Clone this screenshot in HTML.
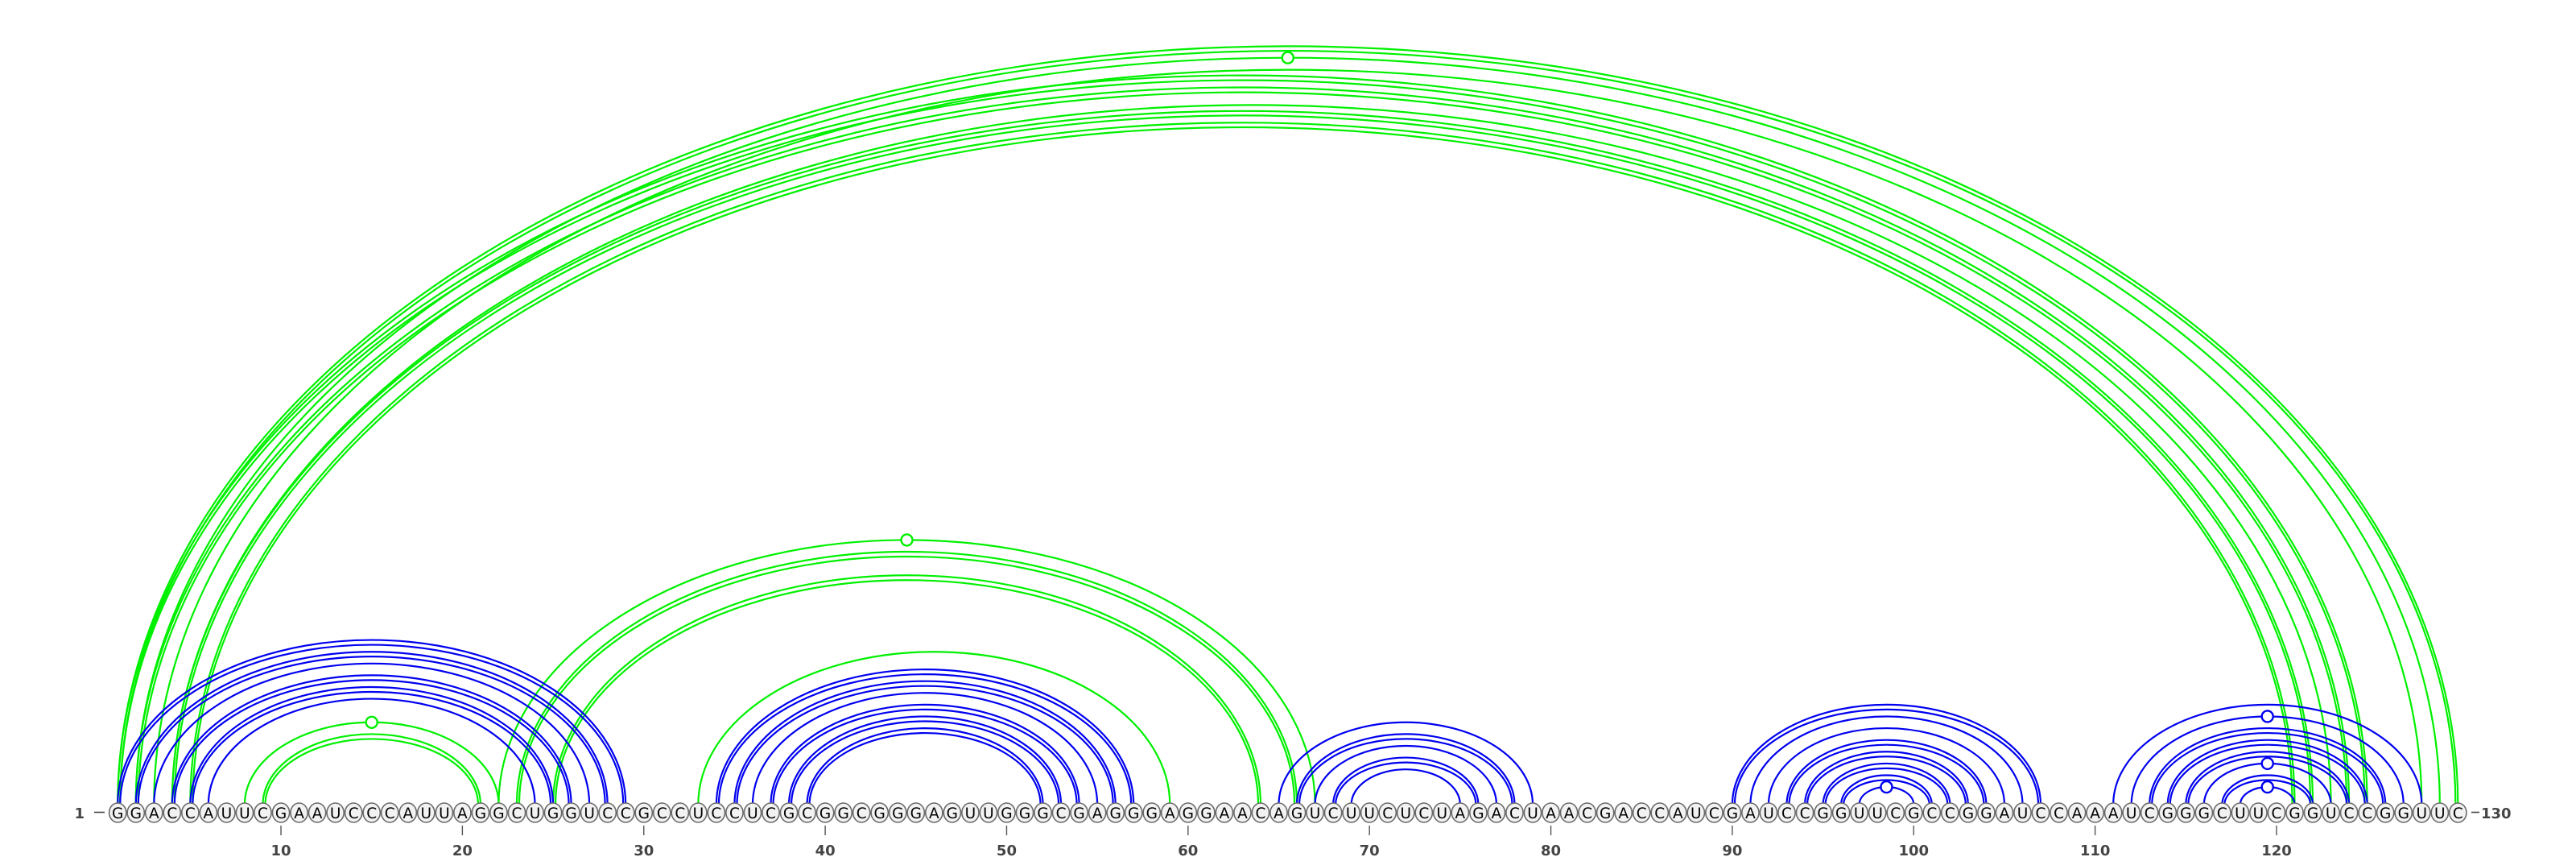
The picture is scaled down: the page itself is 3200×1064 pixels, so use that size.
<!DOCTYPE html>
<html><head><meta charset="utf-8"><style>
html,body{margin:0;padding:0;background:#fff;}
svg{display:block;}
</style></head><body>
<svg id="chart" width="3200" height="1064" viewBox="0 0 3200 1064" xmlns="http://www.w3.org/2000/svg">
<g id="arcs"></g>
<g id="nts"></g>
<g id="ticks"></g>
</svg>
<script>
const sequence = "GGACCAUUCGAAUCCCAUUAGGCUGGUCCGCCUCCUCGCGGCGGGAGUUGGGCGAGGGAGGAACAGUCUUCUCUAGACUAACGACCAUCGAUCCGGUUCGCCGGAUCCAAAUCGGGCUUCGGUCCGGUUC";
// blue pairs: [i, j, double(1/0), marker(1/0)]
const bluePairs = [
 [1,29,1,0],[2,28,1,0],[3,27,0,0],[4,26,1,0],[5,25,1,0],[6,24,0,0],
 [34,57,1,0],[35,56,1,0],[36,55,0,0],[37,54,1,0],[38,53,1,0],[39,52,1,0],
 [65,79,0,0],[66,78,1,0],[67,77,0,0],[68,76,1,0],[69,75,0,0],
 [90,107,1,0],[91,106,0,0],[92,105,0,0],[93,104,1,0],[94,103,1,0],[95,102,1,0],[96,101,1,0],[97,100,0,1],
 [111,128,0,0],[112,127,0,1],[113,126,1,0],[114,125,1,0],[115,124,1,0],[116,123,0,1],[117,122,1,0],[118,121,0,1]
];
const greenPairs = [
 [8,22,0,1],[9,21,1,0],
 [22,67,0,1],[23,66,1,0],[25,64,1,0],[33,59,0,0],
 [1,130,1,0],[2,129,0,1],[3,128,0,0],[1,125,1,0],[2,124,1,0],[4,123,0,0],[4,122,1,0],[5,121,1,0]
];
const tickLabels = [10,20,30,40,50,60,70,80,90,100,110,120];

const NS = "http://www.w3.org/2000/svg";
const X0 = 146.2, STEP = 22.536, BASE = 999, RATIO = 0.648, CY = 1009;
function xPos(n){ return X0 + STEP*(n-1); }
function mk(tag, attrs, parent){
  const e = document.createElementNS(NS, tag);
  for (const k in attrs) e.setAttribute(k, attrs[k]);
  parent.appendChild(e); return e;
}
const arcs = document.getElementById('arcs');
function drawArc(p, color, name){
  const a = xPos(p[0]), b = xPos(p[1]);
  const cx = (a+b)/2, rx = (b-a)/2, ry = rx*RATIO;
  const offs = p[2] ? [0, 6] : [0];
  offs.forEach((o, k) => {
    const r1 = rx - o*0.5, r2 = ry - o;
    const path = mk('path', {d:`M ${cx-r1} ${BASE} A ${r1} ${r2} 0 0 1 ${cx+r1} ${BASE}`, fill:'none', stroke:color, 'stroke-width':2.2}, arcs);
    
    
  });
  if (p[3]) {
    const m = mk('circle', {cx:cx, cy:BASE-ry, r:7, fill:'#fff', stroke:color, 'stroke-width':2.4}, arcs);
    
    
  }
}
greenPairs.forEach(p => drawArc(p, '#00f000', 'green-arc'));
bluePairs.forEach(p => drawArc(p, '#0000f0', 'blue-arc'));

const nts = document.getElementById('nts');
for (let i = 0; i < sequence.length; i++) {
  const x = xPos(i+1);
  const g = mk('g', {}, nts);
  
  
  mk('ellipse', {cx:x, cy:CY, rx:10.6, ry:12, fill:'#f2f2f2', stroke:'#6a6a6a', 'stroke-width':1.6}, g);
  const t = mk('text', {x:x, y:CY+6.8, 'text-anchor':'middle', 'font-family':'DejaVu Sans, Liberation Sans, sans-serif', 'font-size':18.5, fill:'#000'}, g);
  t.textContent = sequence[i];
}
const ticks = document.getElementById('ticks');
tickLabels.forEach(v => {
  const x = xPos(v);
  const l = mk('line', {x1:x, y1:1025, x2:x, y2:1037, stroke:'#555', 'stroke-width':1.4}, ticks);
  
  
  const t = mk('text', {x:x, y:1062, 'text-anchor':'middle', 'font-family':'DejaVu Sans, Liberation Sans, sans-serif', 'font-size':18, 'font-weight':'bold', fill:'#444'}, ticks);
  
  
  t.textContent = v;
});
const s1 = mk('text', {x:105, y:1016, 'text-anchor':'end', 'font-family':'DejaVu Sans, Liberation Sans, sans-serif', 'font-size':18, 'font-weight':'bold', fill:'#444'}, ticks);


s1.textContent = '1';
mk('line', {x1:117, y1:1008.5, x2:130, y2:1008.5, stroke:'#444', 'stroke-width':1.6}, ticks);
mk('line', {x1:3070, y1:1008.5, x2:3080, y2:1008.5, stroke:'#444', 'stroke-width':1.6}, ticks);
const s2 = mk('text', {x:3082, y:1016, 'text-anchor':'start', 'font-family':'DejaVu Sans, Liberation Sans, sans-serif', 'font-size':18, 'font-weight':'bold', fill:'#444'}, ticks);


s2.textContent = '130';
</script>
</body></html>
